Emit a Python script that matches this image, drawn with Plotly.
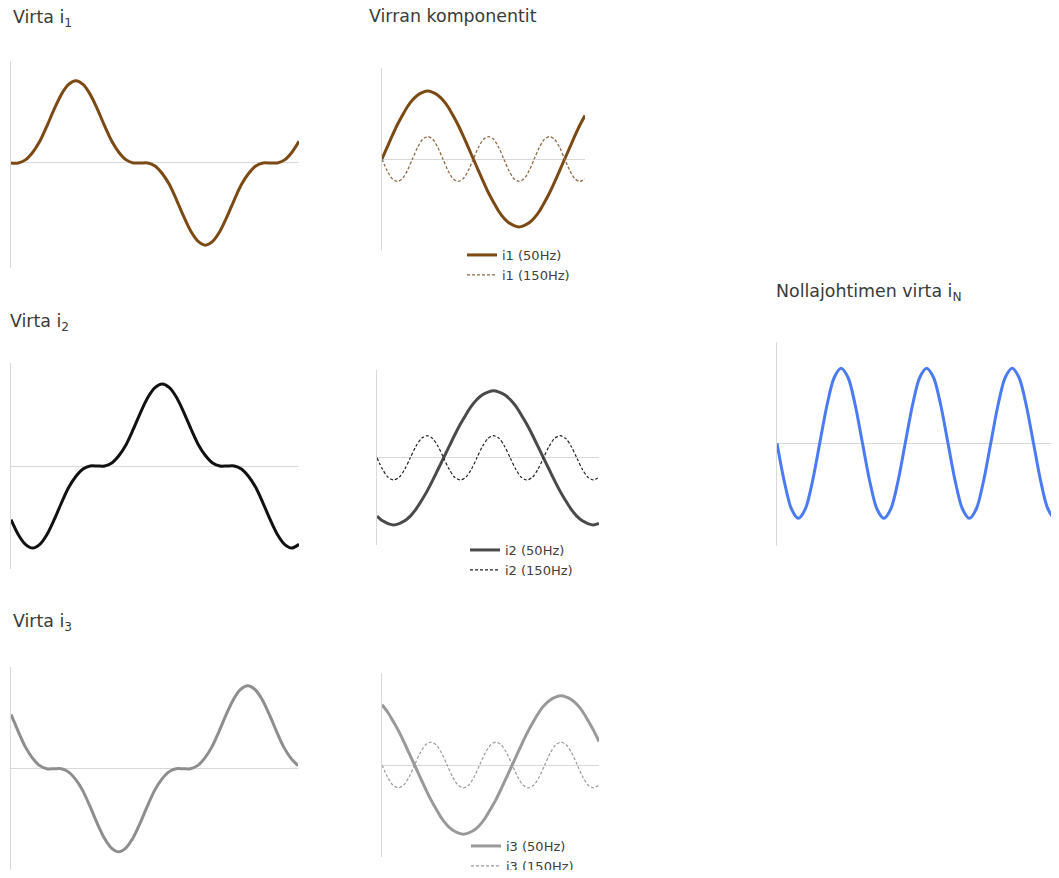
import plotly.graph_objects as go

# page window and the browser's default 8px body margin (figure sized so the page fits exactly)
WIN_W, WIN_H, OFF = 1059, 878, 8
W, H = WIN_W - 2 * OFF, WIN_H - 2 * OFF

# phase angle (degrees), sampled every 10 degrees over 0..400
angle = [0, 10, 20, 30, 40, 50, 60, 70, 80, 90, 100, 110, 120, 130, 140, 150, 160, 170, 180, 190,
         200, 210, 220, 230, 240, 250, 260, 270, 280, 290, 300, 310, 320, 330, 340, 350, 360, 370,
         380, 390, 400]

# fundamental (50 Hz) components
i1_50 = [0, 0.17, 0.34, 0.5, 0.64, 0.77, 0.87, 0.94, 0.98, 1.0, 0.98, 0.94, 0.87, 0.77, 0.64, 0.5,
         0.34, 0.17, 0, -0.17, -0.34, -0.5, -0.64, -0.77, -0.87, -0.94, -0.98, -1.0, -0.98, -0.94,
         -0.87, -0.77, -0.64, -0.5, -0.34, -0.17, 0, 0.17, 0.34, 0.5, 0.64]
i2_50 = [-0.87, -0.94, -0.98, -1.0, -0.98, -0.94, -0.87, -0.77, -0.64, -0.5, -0.34, -0.17, 0, 0.17,
         0.34, 0.5, 0.64, 0.77, 0.87, 0.94, 0.98, 1.0, 0.98, 0.94, 0.87, 0.77, 0.64, 0.5, 0.34, 0.17,
         0, -0.17, -0.34, -0.5, -0.64, -0.77, -0.87, -0.94, -0.98, -1.0, -0.98]
i3_50 = [0.87, 0.77, 0.64, 0.5, 0.34, 0.17, 0, -0.17, -0.34, -0.5, -0.64, -0.77, -0.87, -0.94, -0.98,
         -1.0, -0.98, -0.94, -0.87, -0.77, -0.64, -0.5, -0.34, -0.17, 0, 0.17, 0.34, 0.5, 0.64, 0.77,
         0.87, 0.94, 0.98, 1.0, 0.98, 0.94, 0.87, 0.77, 0.64, 0.5, 0.34]

# third harmonic (150 Hz) components
i1_150 = [0, -0.17, -0.29, -0.33, -0.29, -0.17, 0, 0.17, 0.29, 0.33, 0.29, 0.17,
          0, -0.17, -0.29, -0.33, -0.29, -0.17, 0, 0.17, 0.29, 0.33, 0.29, 0.17,
          0, -0.17, -0.29, -0.33, -0.29, -0.17, 0, 0.17, 0.29, 0.33, 0.29, 0.17,
          0, -0.17, -0.29, -0.33, -0.29]
i2_150 = [0, -0.17, -0.29, -0.33, -0.29, -0.17, 0, 0.17, 0.29, 0.33, 0.29, 0.17,
          0, -0.17, -0.29, -0.33, -0.29, -0.17, 0, 0.17, 0.29, 0.33, 0.29, 0.17,
          0, -0.17, -0.29, -0.33, -0.29, -0.17, 0, 0.17, 0.29, 0.33, 0.29, 0.17,
          0, -0.17, -0.29, -0.33, -0.29]
i3_150 = [0, -0.17, -0.29, -0.33, -0.29, -0.17, 0, 0.17, 0.29, 0.33, 0.29, 0.17,
          0, -0.17, -0.29, -0.33, -0.29, -0.17, 0, 0.17, 0.29, 0.33, 0.29, 0.17,
          0, -0.17, -0.29, -0.33, -0.29, -0.17, 0, 0.17, 0.29, 0.33, 0.29, 0.17,
          0, -0.17, -0.29, -0.33, -0.29]

# total phase currents
i1 = [0, 0, 0.05, 0.17, 0.35, 0.6, 0.87, 1.11, 1.27, 1.33, 1.27, 1.11, 0.87, 0.6, 0.35, 0.17, 0.05,
      0, 0, 0, -0.05, -0.17, -0.35, -0.6, -0.87, -1.11, -1.27, -1.33, -1.27, -1.11, -0.87, -0.6,
      -0.35, -0.17, -0.05, 0, 0, 0, 0.05, 0.17, 0.35]
i2 = [-0.87, -1.11, -1.27, -1.33, -1.27, -1.11, -0.87, -0.6, -0.35, -0.17, -0.05, 0, 0, 0, 0.05,
      0.17, 0.35, 0.6, 0.87, 1.11, 1.27, 1.33, 1.27, 1.11, 0.87, 0.6, 0.35, 0.17, 0.05, 0, 0, 0,
      -0.05, -0.17, -0.35, -0.6, -0.87, -1.11, -1.27, -1.33, -1.27]
i3 = [0.87, 0.6, 0.35, 0.17, 0.05, 0, 0, 0, -0.05, -0.17, -0.35, -0.6, -0.87, -1.11, -1.27, -1.33,
      -1.27, -1.11, -0.87, -0.6, -0.35, -0.17, -0.05, 0, 0, 0, 0.05, 0.17, 0.35, 0.6, 0.87, 1.11,
      1.27, 1.33, 1.27, 1.11, 0.87, 0.6, 0.35, 0.17, 0.05]

# neutral conductor current
iN = [0, -0.5, -0.87, -1.0, -0.87, -0.5, 0, 0.5, 0.87, 1.0, 0.87, 0.5,
      0, -0.5, -0.87, -1.0, -0.87, -0.5, 0, 0.5, 0.87, 1.0, 0.87, 0.5,
      0, -0.5, -0.87, -1.0, -0.87, -0.5, 0, 0.5, 0.87, 1.0, 0.87, 0.5,
      0, -0.5, -0.87, -1.0, -0.87]

titles = ["Virta i<sub>1</sub>", "Virta i<sub>2</sub>", "Virta i<sub>3</sub>",
          "Virran komponentit", "Nollajohtimen virta i<sub>N</sub>"]
names50 = ["i1 (50Hz)", "i2 (50Hz)", "i3 (50Hz)"]
names150 = ["i1 (150Hz)", "i2 (150Hz)", "i3 (150Hz)"]


def fx(p):
    return (p - OFF) / W


def fy(p):
    return 1 - (p - OFF) / H


# ---- layout (window pixel boxes: x0, x1, ytop, ybottom, xmax, ylo, yhi) ----
boxes = [
    (11, 299, 61, 268, 400, -1.70, 1.65),   # i1 total
    (11, 299, 363, 569, 400, -1.67, 1.67),  # i2 total
    (11, 298, 667, 873, 400, -1.67, 1.63),  # i3 total
    (382, 585, 68, 250, 400, -1.34, 1.34),  # i1 components
    (377, 599, 370, 545, 400, -1.30, 1.31), # i2 components
    (382, 599, 673, 857, 400, -1.33, 1.33), # i3 components
    (777, 1059, 342, 546, 395.8, -1.37, 1.35),  # neutral (cut at the window edge)
]

fig = go.Figure()


def add(panel, y, color, width, name=None, dash=None, legend=None):
    n = panel + 1
    fig.add_trace(go.Scatter(
        x=angle, y=y, mode="lines", name=name,
        line=dict(color=color, width=width, shape="spline", smoothing=0.8,
                  dash=dash if dash else "solid"),
        xaxis="x" if n == 1 else f"x{n}", yaxis="y" if n == 1 else f"y{n}",
        showlegend=legend is not None, legend=legend, hoverinfo="skip"))


add(0, i1, "#7b4a14", 3)
add(1, i2, "#111111", 3)
add(2, i3, "#8e8e8e", 3)

add(3, i1_50, "#7b4a14", 3, names50[0], legend="legend")
add(3, i1_150, "#8f6a45", 1.3, names150[0], dash="3px,2px", legend="legend")
add(4, i2_50, "#4a4a4a", 3, names50[1], legend="legend2")
add(4, i2_150, "#222222", 1.2, names150[1], dash="3px,2px", legend="legend2")
add(5, i3_50, "#999999", 3, names50[2], legend="legend3")
add(5, i3_150, "#9a9a9a", 1.2, names150[2], dash="3px,2px", legend="legend3")

add(6, iN, "#4a7bf0", 3)

layout = dict(width=W, height=H, margin=dict(l=0, r=0, t=0, b=0, autoexpand=False),
              paper_bgcolor="white", plot_bgcolor="white",
              font=dict(family="DejaVu Sans", color="#404040"))

XMAX_PX, YMAX_PX = WIN_W - OFF, WIN_H - OFF
for k, (x0, x1, yt, yb, xmax, ylo, yhi) in enumerate(boxes):
    n = k + 1
    xs = "" if n == 1 else str(n)
    if x1 > XMAX_PX:
        # the reference panel runs past the visible page; cut the range where the page ends
        xmax = xmax * (XMAX_PX - x0) / (x1 - x0)
        x1 = XMAX_PX
    if yb > YMAX_PX:
        ylo = ylo + (yhi - ylo) * (yb - YMAX_PX) / (yb - yt)
        yb = YMAX_PX
    layout[f"xaxis{xs}"] = dict(domain=[max(0.0, fx(x0)), min(1.0, fx(x1))], range=[0, xmax],
                                showgrid=False, zeroline=False, showticklabels=False,
                                showline=False, ticks="", anchor=f"y{xs}", fixedrange=True)
    layout[f"yaxis{xs}"] = dict(domain=[max(0.0, fy(yb)), min(1.0, fy(yt))], range=[ylo, yhi],
                                showgrid=False, zeroline=True, zerolinecolor="#d9d9d9",
                                zerolinewidth=1, showline=True, linecolor="#d9d9d9", linewidth=1,
                                showticklabels=False, ticks="", anchor=f"x{xs}", fixedrange=True)

leg_common = dict(bgcolor="rgba(0,0,0,0)", borderwidth=0, font=dict(size=13, color="#404040"),
                  xanchor="left", yanchor="top", tracegroupgap=0, itemwidth=30)
layout["legend"] = dict(x=fx(462), y=fy(240), **leg_common)
layout["legend2"] = dict(x=fx(465), y=fy(535), **leg_common)
layout["legend3"] = dict(x=fx(466), y=fy(831), **leg_common)

# titles: (text, x px, y px of text-box middle) in window pixels
title_pos = [(11, 19), (8, 322.5), (11, 622.5), (367, 16), (774, 292.5)]
ann = []
for t, (x, y) in zip(titles, title_pos):
    ann.append(dict(text=t, x=fx(x), y=fy(y), xref="paper", yref="paper",
                    xanchor="left", yanchor="middle", showarrow=False,
                    font=dict(size=17.4, color="#3a3a3a", family="DejaVu Sans")))
layout["annotations"] = ann

fig.update_layout(**layout)
fig.write_html("out.html")
